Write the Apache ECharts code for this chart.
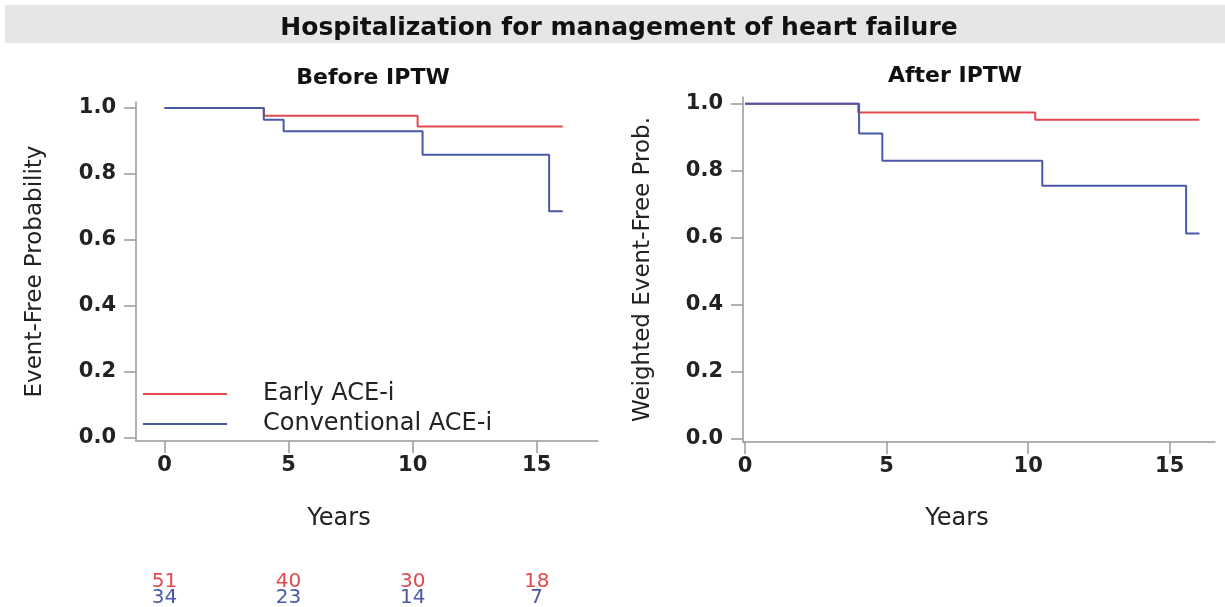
<!DOCTYPE html>
<html>
<head>
<meta charset="utf-8">
<script src="https://cdn.jsdelivr.net/npm/echarts@6/dist/echarts.min.js"></script>
<style>
  html, body { margin: 0; padding: 0; background: #fff; }
  #main { width: 1225px; height: 607px; }
</style>
</head>
<body>
<div id="main"></div>
<script>
// Kaplan-Meier steps: [years, event-free prob]
var beforeEarly = [[0, 1], [4.0, 0.976], [10.2, 0.944], [16.05, 0.944]];
var beforeConv = [[0, 1], [4.0, 0.964], [4.8, 0.929], [10.4, 0.858], [15.5, 0.687], [16.05, 0.687]];
var afterEarly = [[0, 1], [4.0, 0.974], [10.25, 0.952], [16.05, 0.952]];
var afterConv = [[0, 1], [4.03, 0.911], [4.85, 0.830], [10.5, 0.755], [15.58, 0.613], [16.05, 0.613]];

// numbers at risk under the left panel
var riskTimes = [0, 5, 10, 15];
var riskEarly = [51, 40, 30, 18];
var riskConv = [34, 23, 14, 7];

var xTicks = [0, 5, 10, 15];
var yTicks = [0, 0.2, 0.4, 0.6, 0.8, 1.0];

var RED = '#e04a4e';
var BLUE = '#4a58a6';
var FONT = 'DejaVu Sans';

var myChart = echarts.init(document.getElementById('main'));

function xAx(grid, min, max, padRight, gap) {
    return {
        type: 'value', gridIndex: grid, min: min, max: max,
        name: 'Years', nameLocation: 'middle', nameGap: gap,
        nameTextStyle: { fontFamily: FONT, fontSize: 24, color: '#222', padding: [0, padRight, 0, 0] },
        axisLine: { show: true, onZero: false, lineStyle: { color: '#999', width: 1.5 } },
        axisTick: { show: true, length: 12, customValues: xTicks, lineStyle: { color: '#999', width: 1.5 } },
        axisLabel: { customValues: xTicks, margin: 14, fontFamily: FONT, fontSize: 21, fontWeight: 'bold', color: '#222' },
        splitLine: { show: false }
    };
}

function yAx(grid, min, max, name, gap) {
    return {
        type: 'value', gridIndex: grid, min: min, max: max,
        name: name, nameLocation: 'middle', nameGap: gap,
        nameTextStyle: { fontFamily: FONT, fontSize: 23, color: '#222' },
        axisLine: { show: true, onZero: false, lineStyle: { color: '#999', width: 1.5 } },
        axisTick: { show: true, length: 12, customValues: yTicks, lineStyle: { color: '#999', width: 1.5 } },
        axisLabel: {
            customValues: yTicks, margin: 20, fontFamily: FONT, fontSize: 21, fontWeight: 'bold', color: '#222',
            formatter: function (v) { return v.toFixed(1); }
        },
        splitLine: { show: false }
    };
}

// extra x axes used only to print the at-risk numbers
function riskAx(counts, color, offset) {
    return {
        type: 'value', gridIndex: 0, min: -1.15, max: 17.47, position: 'bottom', offset: offset,
        axisLine: { show: false, onZero: false }, axisTick: { show: false }, splitLine: { show: false },
        axisLabel: {
            customValues: riskTimes, margin: 8, fontFamily: FONT, fontSize: 20, color: color,
            formatter: function (v) { return counts[riskTimes.indexOf(v)]; }
        }
    };
}

function km(name, data, color, x, y) {
    return {
        name: name, type: 'line', step: 'end', data: data,
        xAxisIndex: x, yAxisIndex: y,
        showSymbol: false, symbol: 'none', silent: true,
        lineStyle: { color: color, width: 2 },
        itemStyle: { color: color }
    };
}

var option = {
    animation: false,
    backgroundColor: '#fff',
    graphic: [{
        type: 'rect', left: 5, top: 5, z: -1,
        shape: { width: 1220, height: 38 },
        style: { fill: '#e6e6e6' }
    }],
    title: [
        { text: 'Hospitalization for management of heart failure', left: 614, top: 11, textAlign: 'center',
          textStyle: { fontFamily: FONT, fontSize: 25, fontWeight: 'bold', color: '#111' } },
        { text: 'Before IPTW', left: 368, top: 62, textAlign: 'center',
          textStyle: { fontFamily: FONT, fontSize: 22, fontWeight: 'bold', color: '#111' } },
        { text: 'After IPTW', left: 950, top: 60, textAlign: 'center',
          textStyle: { fontFamily: FONT, fontSize: 22, fontWeight: 'bold', color: '#111' } }
    ],
    legend: {
        orient: 'vertical', left: 138, top: 376, itemGap: 4,
        itemWidth: 84, itemHeight: 2, icon: 'rect',
        textStyle: { fontFamily: FONT, fontSize: 24, lineHeight: 26, color: '#222', padding: [0, 0, 0, 31] },
        data: ['Early ACE-i', 'Conventional ACE-i']
    },
    grid: [
        { left: 136, top: 102, width: 462, height: 339, containLabel: false, outerBoundsMode: 'none' },
        { left: 743, top: 97, width: 472, height: 345, containLabel: false, outerBoundsMode: 'none' }
    ],
    xAxis: [
        xAx(0, -1.15, 17.47, 56, 66),
        xAx(1, -0.07, 16.6, 44, 65),
        riskAx(riskEarly, RED, 123),
        riskAx(riskConv, BLUE, 139)
    ],
    yAxis: [
        yAx(0, -0.01, 1.018, 'Event-Free Probability', 89),
        yAx(1, -0.009, 1.02, 'Weighted Event-Free Prob.', 88)
    ],
    series: [
        km('Early ACE-i', beforeEarly, RED, 0, 0),
        km('Conventional ACE-i', beforeConv, BLUE, 0, 0),
        km('Early ACE-i', afterEarly, RED, 1, 1),
        km('Conventional ACE-i', afterConv, BLUE, 1, 1)
    ]
};
myChart.setOption(option);
</script>
</body>
</html>
